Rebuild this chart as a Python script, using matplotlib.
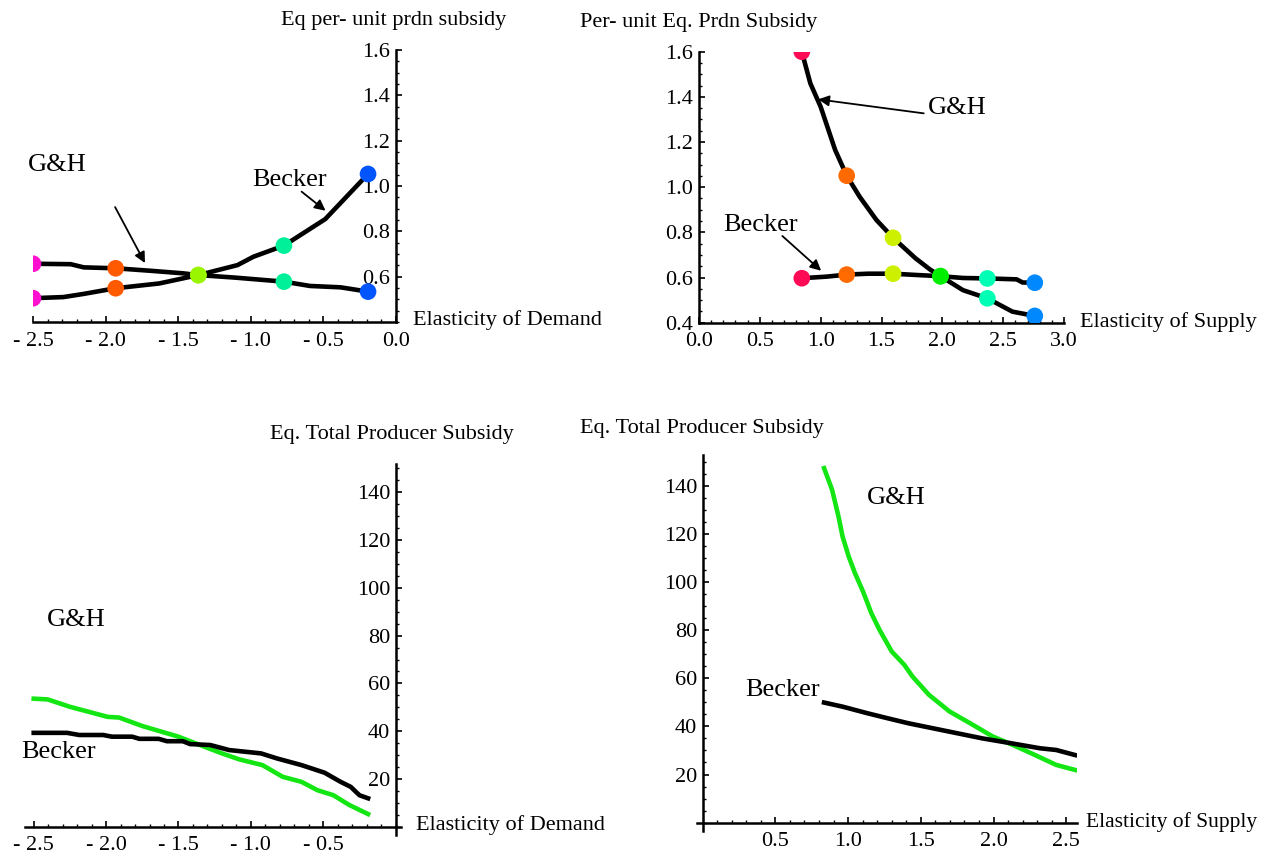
import matplotlib
matplotlib.use("Agg")
import matplotlib.pyplot as plt
from matplotlib.ticker import MultipleLocator

plt.rcParams['font.family'] = ['Liberation Serif', 'DejaVu Serif']

# ---------------- data ----------------
# Top-left: per-unit subsidy vs elasticity of demand
tl_gh_x = [-2.5, -2.24, -2.15, -1.93, -1.69, -1.47, -1.36, -1.11, -0.77, -0.59, -0.38, -0.19]
tl_gh_y = [0.657, 0.655, 0.641, 0.637, 0.626, 0.615, 0.607, 0.596, 0.578, 0.559, 0.553, 0.534]
tl_becker_x = [-2.5, -2.29, -2.15, -1.93, -1.63, -1.36, -1.09, -0.98, -0.77, -0.485, -0.19]
tl_becker_y = [0.505, 0.51, 0.524, 0.549, 0.57, 0.607, 0.651, 0.688, 0.737, 0.854, 1.053]
tl_mark_x = [-2.5, -1.93, -1.36, -0.77, -0.19]
tl_mark_gh_y = [0.657, 0.637, 0.607, 0.578, 0.534]
tl_mark_becker_y = [0.505, 0.549, 0.607, 0.737, 1.053]
tl_mark_colors = ['#FF10D0', '#FF5A00', '#99F500', '#00F09A', '#0055FF']

# Top-right: per-unit subsidy vs elasticity of supply
tr_gh_x = [0.845, 0.915, 1.0, 1.119, 1.214, 1.32, 1.458, 1.595, 1.78, 1.898, 1.985, 2.17, 2.37, 2.576, 2.76]
tr_gh_y = [1.6, 1.46, 1.356, 1.165, 1.051, 0.958, 0.855, 0.776, 0.685, 0.636, 0.606, 0.544, 0.508, 0.449, 0.43]
tr_becker_x = [0.845, 1.05, 1.214, 1.39, 1.595, 1.797, 1.985, 2.17, 2.37, 2.61, 2.66, 2.76]
tr_becker_y = [0.597, 0.604, 0.613, 0.617, 0.617, 0.611, 0.606, 0.598, 0.596, 0.592, 0.578, 0.577]
tr_mark_x = [0.845, 1.214, 1.595, 1.985, 2.37, 2.76]
tr_mark_gh_y = [1.6, 1.051, 0.776, 0.606, 0.508, 0.43]
tr_mark_becker_y = [0.597, 0.613, 0.617, 0.606, 0.596, 0.577]
tr_mark_colors = ['#FF0A55', '#FF6A00', '#CCF000', '#00EE00', '#00FFB4', '#0088FF']

# Bottom-left: total producer subsidy vs elasticity of demand
bl_gh_x = [-2.5, -2.404, -2.25, -1.99, -1.91, -1.747, -1.5, -1.36, -1.2, -1.08, -0.92, -0.78,
           -0.65, -0.54, -0.43, -0.32, -0.19]
bl_gh_y = [53.6, 53.3, 50.2, 46.0, 45.7, 42.1, 37.7, 34.4, 30.7, 28.2, 25.8, 20.9,
           18.8, 15.3, 13.2, 9.1, 5.3]
bl_becker_x = [-2.5, -2.27, -2.185, -2.02, -1.96, -1.82, -1.77, -1.637, -1.58, -1.47, -1.42,
               -1.28, -1.15, -1.04, -0.93, -0.82, -0.65, -0.49, -0.38, -0.31, -0.25, -0.19]
bl_becker_y = [39.3, 39.3, 38.4, 38.4, 37.7, 37.7, 36.8, 36.8, 35.8, 35.8, 34.6,
               34.2, 32.1, 31.4, 30.7, 28.6, 25.8, 22.6, 18.8, 16.7, 13.2, 11.9]

# Bottom-right: total producer subsidy vs elasticity of supply
br_gh_x = [0.835, 0.89, 0.934, 0.962, 1.004, 1.047, 1.103, 1.16, 1.216, 1.3, 1.386, 1.443,
           1.556, 1.697, 1.839, 1.994, 2.12, 2.26, 2.43, 2.56]
br_gh_y = [147.3, 138.3, 127.2, 118.9, 110.6, 103.7, 96.0, 87.0, 80.1, 71.1, 65.6, 60.7,
           53.1, 46.2, 41.3, 35.8, 32.6, 28.8, 24.0, 21.9]
br_becker_x = [0.835, 0.962, 1.13, 1.27, 1.414, 1.584, 1.754, 1.924, 2.12, 2.32, 2.43, 2.56]
br_becker_y = [49.9, 48.2, 45.5, 43.4, 41.3, 39.2, 37.1, 35.0, 33.0, 30.9, 30.2, 28.1]

# tick labels
dem_ticks_top = [-2.5, -2.0, -1.5, -1.0, -0.5, 0.0]
dem_labels_top = ['- 2.5', '- 2.0', '- 1.5', '- 1.0', '- 0.5', '0.0']
dem_ticks_bot = [-2.5, -2.0, -1.5, -1.0, -0.5]
dem_labels_bot = ['- 2.5', '- 2.0', '- 1.5', '- 1.0', '- 0.5']
sup_ticks_top = [0.0, 0.5, 1.0, 1.5, 2.0, 2.5, 3.0]
sup_ticks_bot = [0.5, 1.0, 1.5, 2.0, 2.5]
unit_ticks_tl = [0.6, 0.8, 1.0, 1.2, 1.4, 1.6]
unit_ticks_tr = [0.4, 0.6, 0.8, 1.0, 1.2, 1.4, 1.6]
total_ticks = [20, 40, 60, 80, 100, 120, 140]

GREEN = '#14E614'

# ---------------- figure ----------------
W, H = 1264, 858
fig = plt.figure(figsize=(W / 100, H / 100), dpi=100)

TICK_FS = 16
LABEL_FS = 16
NOTE_FS = 19


def make_ax(xlim, ylim, px0, px1, py0, py1):
    ax = fig.add_axes([px0 / W, 1 - py0 / H, (px1 - px0) / W, (py0 - py1) / H])
    ax.set_xlim(*xlim)
    ax.set_ylim(*ylim)
    ax.patch.set_alpha(0)
    for s in ('top', 'right'):
        ax.spines[s].set_visible(False)
    for s in ('left', 'bottom'):
        ax.spines[s].set_linewidth(1.8)
    ax.tick_params(which='major', direction='in', length=4.5, width=1.2, labelsize=TICK_FS,
                   pad=4, top=False, right=False)
    ax.tick_params(which='minor', direction='in', length=2.5, width=1.0, top=False, right=False)
    ax.tick_params(axis='x', which='major', pad=7)
    return ax


def ftext(x, y, s, **kw):
    fig.text(x / W, 1 - y / H, s, **kw)


LW = 3.3
MS = 12

arr = dict(arrowstyle='-|>', color='black', lw=1.3, mutation_scale=16, shrinkA=0, shrinkB=0)

# ---- Top-left ----
ax = make_ax((-2.5, 0.0), (0.4, 1.6), 33, 395.6, 322, 50)
ax.spines['left'].set_position(('data', 0))
ax.set_xticks(dem_ticks_top, dem_labels_top)
ax.set_yticks(unit_ticks_tl, [f'{v:.1f}' for v in unit_ticks_tl])
ax.xaxis.set_minor_locator(MultipleLocator(0.1))
ax.yaxis.set_minor_locator(MultipleLocator(0.05))
ax.plot(tl_gh_x, tl_gh_y, color='black', lw=LW, zorder=2)
ax.plot(tl_becker_x, tl_becker_y, color='black', lw=LW, zorder=2)
ax.scatter(tl_mark_x, tl_mark_gh_y, c=tl_mark_colors, s=MS ** 2, zorder=3, linewidths=0)
ax.scatter(tl_mark_x, tl_mark_becker_y, c=tl_mark_colors, s=MS ** 2, zorder=3, linewidths=0)
ax.text(-2.334, 1.093, 'G&H', fontsize=NOTE_FS, ha='center', va='center')
ax.text(-0.728, 1.026, 'Becker', fontsize=NOTE_FS, ha='center', va='center')
ax.annotate('', xy=(-1.728, 0.66), xytext=(-1.934, 0.907), arrowprops=arr)
ax.annotate('', xy=(-0.483, 0.891), xytext=(-0.648, 0.975), arrowprops=arr)
ftext(394, 20, 'Eq per- unit prdn subsidy', fontsize=LABEL_FS, ha='center', va='center')
ftext(413, 320, 'Elasticity of Demand', fontsize=LABEL_FS, ha='left', va='center')

# ---- Top-right ----
ax = make_ax((0.0, 3.0), (0.4, 1.6), 699, 1064, 322.7, 51.7)
ax.set_xticks(sup_ticks_top, [f'{v:.1f}' for v in sup_ticks_top])
ax.set_yticks(unit_ticks_tr, [f'{v:.1f}' for v in unit_ticks_tr])
ax.xaxis.set_minor_locator(MultipleLocator(0.1))
ax.yaxis.set_minor_locator(MultipleLocator(0.05))
ax.plot(tr_gh_x, tr_gh_y, color='black', lw=LW, zorder=2)
ax.plot(tr_becker_x, tr_becker_y, color='black', lw=LW, zorder=2)
ax.scatter(tr_mark_x, tr_mark_gh_y, c=tr_mark_colors, s=MS ** 2, zorder=3, linewidths=0)
ax.scatter(tr_mark_x, tr_mark_becker_y, c=tr_mark_colors, s=MS ** 2, zorder=3, linewidths=0)
ax.text(2.12, 1.351, 'G&H', fontsize=NOTE_FS, ha='center', va='center')
ax.text(0.505, 0.833, 'Becker', fontsize=NOTE_FS, ha='center', va='center')
ax.annotate('', xy=(0.98, 1.389), xytext=(1.847, 1.327), arrowprops=arr)
ax.annotate('', xy=(1.004, 0.63), xytext=(0.685, 0.784), arrowprops=arr)
ftext(699, 22, 'Per- unit Eq. Prdn Subsidy', fontsize=LABEL_FS, ha='center', va='center')
ftext(1080, 322, 'Elasticity of Supply', fontsize=LABEL_FS, ha='left', va='center')

# ---- Bottom-left ----
ax = make_ax((-2.563, 0.036), (-3.5, 152), 24.6, 400.8, 835.1, 463.6)
ax.spines['left'].set_position(('data', 0))
ax.spines['bottom'].set_position(('data', 0))
ax.set_xticks(dem_ticks_bot, dem_labels_bot)
ax.set_yticks(total_ticks, [str(v) for v in total_ticks])
ax.xaxis.set_minor_locator(MultipleLocator(0.1))
ax.yaxis.set_minor_locator(MultipleLocator(5))
ax.plot(bl_gh_x, bl_gh_y, color=GREEN, lw=LW, zorder=2)
ax.plot(bl_becker_x, bl_becker_y, color='black', lw=LW, zorder=2)
ax.text(-2.208, 86.5, 'G&H', fontsize=NOTE_FS, ha='center', va='center')
ax.text(-2.329, 31.4, 'Becker', fontsize=NOTE_FS, ha='center', va='center')
ftext(392, 435, 'Eq. Total Producer Subsidy', fontsize=LABEL_FS, ha='center', va='center')
ftext(416, 825, 'Elasticity of Demand', fontsize=LABEL_FS, ha='left', va='center')

# ---- Bottom-right ----
ax = make_ax((-0.04, 2.57), (-3.3, 152.8), 696.8, 1076.5, 830.6, 454.9)
ax.spines['left'].set_position(('data', 0))
ax.spines['bottom'].set_position(('data', 0))
ax.set_xticks(sup_ticks_bot, [f'{v:.1f}' for v in sup_ticks_bot])
ax.set_yticks(total_ticks, [str(v) for v in total_ticks])
ax.xaxis.set_minor_locator(MultipleLocator(0.1))
ax.yaxis.set_minor_locator(MultipleLocator(5))
ax.plot(br_gh_x, br_gh_y, color=GREEN, lw=LW, zorder=2)
ax.plot(br_becker_x, br_becker_y, color='black', lw=LW, zorder=2)
ax.text(1.329, 134.8, 'G&H', fontsize=NOTE_FS, ha='center', va='center')
ax.text(0.552, 55.1, 'Becker', fontsize=NOTE_FS, ha='center', va='center')
ftext(702, 428, 'Eq. Total Producer Subsidy', fontsize=LABEL_FS, ha='center', va='center')
ftext(1086, 822, 'Elasticity of Supply', fontsize=15.5, ha='left', va='center')

fig.savefig('out.png', dpi=100)
